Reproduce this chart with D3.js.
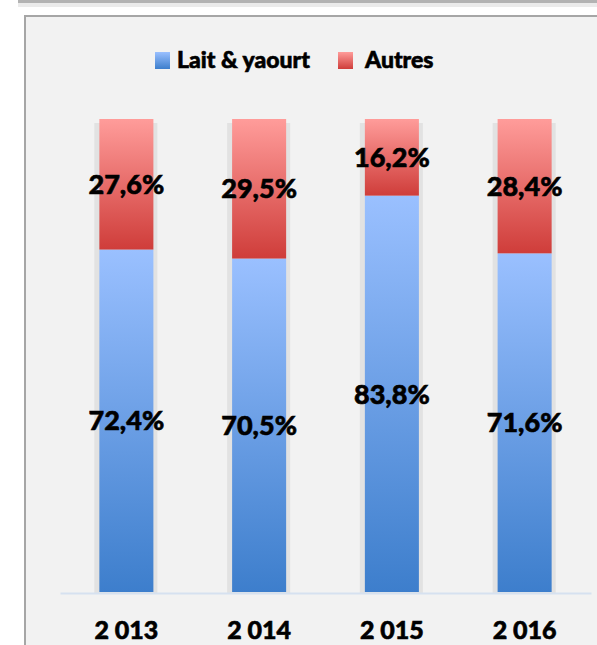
<!DOCTYPE html>
<html>
<head>
<meta charset="utf-8">
<script src="https://cdn.jsdelivr.net/npm/d3@7"></script>
<style>
  body { margin: 0; background: #ffffff; }
  text { font-family: Lato, "Open Sans", sans-serif; font-weight: 900; fill: #000; stroke: #000; stroke-width: 0.6px; }
</style>
</head>
<body>
<svg id="chart" width="597" height="645"></svg>
<script>

var years = ["2 013", "2 014", "2 015", "2 016"]

var lait = [72.4, 70.5, 83.8, 71.6]

var autres = [27.6, 29.5, 16.2, 28.4]

var seriesNames = ["Lait & yaourt", "Autres"]

var svg = d3.select('#chart')

// frame bits from the screenshot
svg.append("rect")
        .attr("x", 18).attr("y", 0)
        .attr("width", 600).attr("height", 3)
        .attr("fill", "#b3b3b3")

svg.append("rect")
        .attr("x", 18).attr("y", 3)
        .attr("width", 600).attr("height", 4)
        .attr("fill", "#ebebeb")

svg.append("rect")
        .attr("x", 25).attr("y", 16)
        .attr("width", 600).attr("height", 700)
        .attr("fill", "#f2f2f2")
        .attr("stroke", "#a6a6a6")
        .attr("stroke-width", 2)

var defs = svg.append("defs")

function grad(id, top, bottom) {
    var g = defs.append("linearGradient")
                .attr("id", id)
                .attr("x1", 0).attr("y1", 0)
                .attr("x2", 0).attr("y2", 1)
    g.append("stop").attr("offset", "0%").attr("stop-color", top)
    g.append("stop").attr("offset", "100%").attr("stop-color", bottom)
}

grad("gBlue", "#9ac0ff", "#3d7ecc")
grad("gRed", "#ff9c9a", "#cf3d3a")

var x = d3.scaleBand()
            .domain(years)
            .range([60, 591])
            .paddingInner(0.593)
            .paddingOuter(0.2965)

var y = d3.scaleLinear()
            .domain([0, 100])
            .range([592, 119])

var rows = years.map(function(d, i) {
    return { year: d, lait: lait[i], autres: autres[i] }
})

var stack = d3.stack().keys(["lait", "autres"])(rows)

var fills = { lait: "url(#gBlue)", autres: "url(#gRed)" }

var plot = svg.append("g")

// soft shadow behind each bar
plot.selectAll(".shadow")
        .data(rows)
        .enter().append("rect")
        .attr("class", "shadow")
        .attr("x", function(d) { return x(d.year) - 5 })
        .attr("y", y(100) + 4)
        .attr("width", x.bandwidth() + 9)
        .attr("height", y(0) - y(100) - 3)
        .attr("fill", "#e2e2e2")

stack.forEach(function(layer) {
    plot.selectAll(".bar-" + layer.key)
            .data(layer)
            .enter().append("rect")
            .attr("x", function(d) { return x(d.data.year) })
            .attr("y", function(d) { return y(d[1]) })
            .attr("width", x.bandwidth())
            .attr("height", function(d) { return y(d[0]) - y(d[1]) })
            .attr("fill", fills[layer.key])

    plot.selectAll(".lbl-" + layer.key)
            .data(layer)
            .enter().append("text")
            .attr("x", function(d) { return x(d.data.year) + x.bandwidth() / 2 })
            .attr("y", function(d) { return (y(d[0]) + y(d[1])) / 2 })
            .attr("dy", "0.36em")
            .attr("text-anchor", "middle")
            .attr("font-size", "27px")
            .text(function(d) { return d3.format(".1f")(d[1] - d[0]).replace(".", ",") + "%" })
})

var axis = svg.append("g")
                .attr("transform", "translate(0, 593)")
                .call(d3.axisBottom(x).tickSize(0).tickPadding(0))

axis.select(".domain")
        .attr("stroke", "#d6e1f0")
        .attr("stroke-width", 2)

axis.selectAll("text")
        .attr("y", 46)
        .attr("dy", 0)
        .attr("font-size", "25px")
        .attr("font-family", null)
        .attr("fill", "#000")

// legend
var legend = svg.append("g")

var legendX = [155, 338]
var legendTextX = [177, 365]
var legendFill = ["url(#gBlue)", "url(#gRed)"]

legend.selectAll("rect")
        .data(seriesNames)
        .enter().append("rect")
        .attr("x", function(d, i) { return legendX[i] })
        .attr("y", 52)
        .attr("width", 15)
        .attr("height", 17)
        .attr("fill", function(d, i) { return legendFill[i] })

legend.selectAll("text")
        .data(seriesNames)
        .enter().append("text")
        .attr("x", function(d, i) { return legendTextX[i] })
        .attr("y", 68)
        .attr("font-size", "23px")
        .text(function(d) { return d })

</script>
</body>
</html>
